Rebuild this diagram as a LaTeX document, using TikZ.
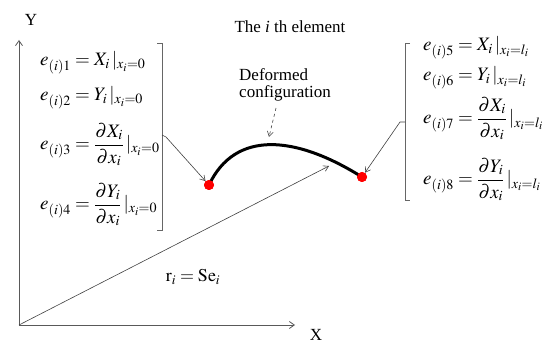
\documentclass[tikz,border=0pt]{standalone}
\usepackage{amsmath}
\usepackage{mathptmx}
\usepackage[no-math]{fontspec}
\setmainfont{Liberation Serif}
\usetikzlibrary{arrows.meta}
\tikzset{
  axis/.style={draw=black!65, line width=0.8pt, -{Straight Barb[length=5pt,width=7pt]}},
  conn/.style={draw=black!75, line width=0.6pt, -{Straight Barb[length=5pt,width=6pt]}},
  brack/.style={draw=black!60, line width=0.8pt},
  eq/.style={anchor=base west, inner sep=0pt, font=\fontsize{19}{22}\selectfont},
  lbl/.style={inner sep=0pt, font=\fontsize{17}{20}\selectfont},
  dot/.style={circle, fill=red, inner sep=0pt, minimum size=10pt}
}
\begin{document}
\begin{tikzpicture}[x=1pt,y=-1pt]
\useasboundingbox (0,0) rectangle (545,344);
% axes
\coordinate (O) at (19,325);
\coordinate (Ytop) at (19,40);
\coordinate (Xend) at (295,325);
\draw[axis] (O) -- (Ytop);
\draw[axis] (O) -- (Xend);
\node[lbl] (ylab) at (31,20) {Y};
\node[lbl] (xlab) at (316,335) {X};
% position vector
\coordinate (R) at (329,166);
\draw[conn] (O) -- (R);
\node[lbl, font=\fontsize{18}{20}\selectfont] (rlab) at (193,277) {$\mathrm{r}_i=\mathrm{Se}_i$};
% element
\node[dot] (A) at (209,185) {};
\node[dot] (B) at (362,177) {};
\draw[line width=3pt] (A.center) .. controls (235,130) and (295,135) .. (B.center);
\node[dot] at (209,185) {};
\node[dot] at (362,177) {};
% titles
\node[lbl] (title) at (290,27) {The \textit{i} th element};
\node[lbl, align=left] (def) at (285,85) {Deformed\\[-3pt]configuration};
\coordinate (Dtip) at (269,137);
\draw[conn, dashed] (276,108) -- (Dtip);
% left equations
\node[eq] (e1) at (40,66) {$e_{(i)1}=X_i\,|_{x_i=0}$};
\node[eq] (e2) at (40,101) {$e_{(i)2}=Y_i\,|_{x_i=0}$};
\node[eq] (e3) at (40,150) {$e_{(i)3}=\dfrac{\partial X_i}{\partial x_i}\,|_{x_i=0}$};
\node[eq] (e4) at (40,210) {$e_{(i)4}=\dfrac{\partial Y_i}{\partial x_i}\,|_{x_i=0}$};
% right equations
\node[eq] (e5) at (423,51) {$e_{(i)5}=X_i\,|_{x_i=l_i}$};
\node[eq] (e6) at (423,81) {$e_{(i)6}=Y_i\,|_{x_i=l_i}$};
\node[eq] (e7) at (423,124) {$e_{(i)7}=\dfrac{\partial X_i}{\partial x_i}\,|_{x_i=l_i}$};
\node[eq] (e8) at (423,185) {$e_{(i)8}=\dfrac{\partial Y_i}{\partial x_i}\,|_{x_i=l_i}$};
% brackets
\draw[brack] (157,43) -- (162,43) -- (162,230) -- (157,230);
\draw[brack] (410,43) -- (405,43) -- (405,200) -- (410,200);
\coordinate (Lm) at (162,135);
\coordinate (Rm) at (405,122);
\draw[conn] (Lm) -- (166,137) -- (A);
\draw[conn] (Rm) -- (400,122) -- (B);
\end{tikzpicture}
\end{document}
